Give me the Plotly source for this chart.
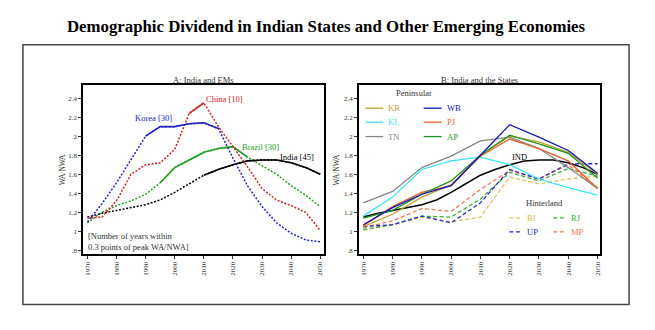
import plotly.graph_objects as go

W, H = 655, 330
def px(x): return x / W
def py(y): return 1 - y / H

# ---------------- Data ----------------
years5 = [1970, 1975, 1980, 1985, 1990, 1995, 2000, 2005, 2010, 2015,
          2020, 2025, 2030, 2035, 2040, 2045, 2050]
korea = [1.10, 1.29, 1.51, 1.76, 2.00, 2.10, 2.10, 2.13, 2.14, 2.08,
         1.77, 1.48, 1.26, 1.09, 0.98, 0.91, 0.89]
china = [1.14, 1.15, 1.32, 1.60, 1.70, 1.72, 1.86, 2.24, 2.35, 2.10,
         1.89, 1.68, 1.45, 1.33, 1.27, 1.20, 1.01]
brazil = [1.09, 1.20, 1.27, 1.32, 1.39, 1.51, 1.67, 1.75, 1.83, 1.87,
          1.89, 1.78, 1.69, 1.60, 1.48, 1.38, 1.26]
india = [1.15, 1.19, 1.22, 1.25, 1.28, 1.33, 1.41, 1.50, 1.59, 1.65,
         1.70, 1.74, 1.75, 1.75, 1.72, 1.67, 1.60]
# years within 0.3 points of peak (drawn solid)
korea_solid = (1990, 2015)
china_solid = (2005, 2010)
brazil_solid = (1995, 2025)
india_solid = (2010, 2050)

years10 = [1970, 1980, 1990, 2000, 2010, 2020, 2030, 2040, 2050]
KR = [1.05, 1.18, 1.36, 1.49, 1.80, 2.00, 1.94, 1.83, 1.60]
KL = [1.16, 1.36, 1.65, 1.74, 1.78, 1.70, 1.55, 1.46, 1.38]
TN = [1.30, 1.42, 1.67, 1.79, 1.95, 1.99, 1.87, 1.67, 1.45]
WB = [1.07, 1.25, 1.39, 1.48, 1.80, 2.12, 1.99, 1.85, 1.61]
PJ = [1.06, 1.26, 1.41, 1.48, 1.79, 1.97, 1.87, 1.74, 1.45]
AP = [1.14, 1.22, 1.39, 1.53, 1.80, 2.01, 1.92, 1.82, 1.56]
BI = [1.01, 1.07, 1.15, 1.10, 1.15, 1.57, 1.50, 1.55, 1.58]
RJ = [1.02, 1.07, 1.16, 1.15, 1.34, 1.62, 1.53, 1.66, 1.58]
UP = [1.05, 1.07, 1.16, 1.09, 1.30, 1.65, 1.55, 1.71, 1.71]
MP = [1.04, 1.11, 1.24, 1.21, 1.44, 1.64, 1.55, 1.70, 1.46]
IND = india

xticks = [1970, 1980, 1990, 2000, 2010, 2020, 2030, 2040, 2050]
yticks = [0.8, 1.0, 1.2, 1.4, 1.6, 1.8, 2.0, 2.2, 2.4]
yticktext = [".8", "1", "1.2", "1.4", "1.6", "1.8", "2", "2.2", "2.4"]

# ---------------- Styles ----------------
SERIF = "Liberation Serif, Times New Roman, serif"
C_KOREA, C_CHINA, C_BRAZIL, C_INDIA = "#2424C4", "#D42020", "#22A022", "#000000"
colors_pen = {"KR": "#C8A030", "KL": "#3CE4F0", "TN": "#858585",
              "WB": "#1414B4", "PJ": "#E2622C", "AP": "#1E961E"}
colors_hin = {"BI": "#DEC060", "RJ": "#38B038", "UP": "#2828CC", "MP": "#F07A55"}
DOT = "2px,1.6px"
DASH = "4px,2.5px"

fig = go.Figure()

def left_series(vals, color, solid):
    fig.add_trace(go.Scatter(x=years5, y=vals, mode="lines", xaxis="x", yaxis="y",
                             line=dict(color=color, width=1.5, dash=DOT),
                             showlegend=False, hoverinfo="skip"))
    xs = [x for x in years5 if solid[0] <= x <= solid[1]]
    ys = [v for x, v in zip(years5, vals) if solid[0] <= x <= solid[1]]
    fig.add_trace(go.Scatter(x=xs, y=ys, mode="lines", xaxis="x", yaxis="y",
                             line=dict(color=color, width=1.6),
                             showlegend=False, hoverinfo="skip"))

left_series(brazil, C_BRAZIL, brazil_solid)
left_series(india, C_INDIA, india_solid)
left_series(china, C_CHINA, china_solid)
left_series(korea, C_KOREA, korea_solid)

series_pen = [("TN", TN), ("KL", KL), ("KR", KR), ("PJ", PJ), ("AP", AP), ("WB", WB)]
series_hin = [("BI", BI), ("RJ", RJ), ("MP", MP), ("UP", UP)]
for name, vals in series_hin:
    fig.add_trace(go.Scatter(x=years10, y=vals, mode="lines", xaxis="x2", yaxis="y2",
                             line=dict(color=colors_hin[name], width=1.3, dash=DASH),
                             showlegend=False, hoverinfo="skip"))
fig.add_trace(go.Scatter(x=years5, y=IND, mode="lines", xaxis="x2", yaxis="y2",
                         line=dict(color="#000000", width=1.5),
                         showlegend=False, hoverinfo="skip"))
for name, vals in series_pen:
    fig.add_trace(go.Scatter(x=years10, y=vals, mode="lines", xaxis="x2", yaxis="y2",
                             line=dict(color=colors_pen[name], width=1.3),
                             showlegend=False, hoverinfo="skip"))

axis_common = dict(showline=True, linecolor="#000", linewidth=1.5, mirror=True,
                   showgrid=False, zeroline=False, ticks="outside", ticklen=3,
                   tickwidth=1, tickcolor="#333",
                   tickfont=dict(family=SERIF, size=7, color="#333"))
xa = dict(axis_common, range=[1968.5, 2051.3], tickvals=xticks,
          ticktext=[str(t) for t in xticks], tickangle=-90)
ya = dict(axis_common, range=[0.76, 2.54], tickvals=yticks, ticktext=yticktext)

ydom = [py(255), py(85)]
fig.update_layout(
    width=W, height=H, margin=dict(l=0, r=0, t=0, b=0),
    paper_bgcolor="white", plot_bgcolor="white",
    xaxis=dict(xa, domain=[px(83.3), px(325)], anchor="y"),
    yaxis=dict(ya, domain=ydom, anchor="x"),
    xaxis2=dict(xa, domain=[px(360), px(602)], anchor="y2", range=[1968.5, 2050.9]),
    yaxis2=dict(ya, domain=ydom, anchor="x2"),
)

ann = []
def text(x, y, s, size=8, color="#333", xanchor="left", **kw):
    ann.append(dict(x=px(x), y=py(y), xref="paper", yref="paper", text=s,
                    showarrow=False, xanchor=xanchor, yanchor="middle",
                    font=dict(family=SERIF, size=size, color=color), **kw))

text(327.5, 27, "<b>Demographic Dividend in Indian States and Other Emerging Economies</b>",
     size=16.8, color="#000", xanchor="center")
text(204, 80, "A: India and EMs", size=8.5, xanchor="center")
text(481, 80, "B: India and the States", size=8.5, xanchor="center")
text(63, 170, "WA/NWA", size=7.5, xanchor="center", textangle=-90)
text(338, 170, "WA/NWA", size=7.5, xanchor="center", textangle=-90)

text(133, 118.5, "Korea [30]", size=8.5, color=C_KOREA)
text(205, 99, "China [10]", size=8.5, color=C_CHINA)
text(241, 147, "Brazil [30]", size=8.5, color=C_BRAZIL)
text(279, 157, "India [45]", size=8.5, color=C_INDIA)
text(86.5, 242.5, "[Number of years within<br>0.3 points of peak WA/NWA]", size=8.5,
     color="#333", align="left")

text(512, 157, "IND", size=8.5, color="#000")
text(395, 93.5, "Peninsular", size=8.5, color="#333")
text(526, 204, "Hinterland", size=8.5, color="#333")

shapes = []
def leg(x0, y, name, color, dash, length=18):
    shapes.append(dict(type="line", xref="paper", yref="paper",
                       x0=px(x0), x1=px(x0 + length), y0=py(y), y1=py(y),
                       line=dict(color=color, width=1.3, dash=dash)))
    text(x0 + length + 3, y, name, size=8.5, color=color)

leg(366.5, 108.5, "KR", colors_pen["KR"], "solid")
leg(366.5, 122.5, "KL", colors_pen["KL"], "solid")
leg(366.5, 137, "TN", colors_pen["TN"], "solid")
leg(425, 108.5, "WB", colors_pen["WB"], "solid")
leg(425, 122.5, "PJ", colors_pen["PJ"], "solid")
leg(425, 137, "AP", colors_pen["AP"], "solid")
leg(511, 218.5, "BI", colors_hin["BI"], DASH, 13)
leg(511, 232.5, "UP", colors_hin["UP"], DASH, 13)
leg(555, 218.5, "RJ", colors_hin["RJ"], DASH, 13)
leg(555, 232.5, "MP", colors_hin["MP"], DASH, 13)

# outer frame
shapes.append(dict(type="rect", xref="paper", yref="paper",
                   x0=px(23), x1=px(631), y0=py(305.5), y1=py(45),
                   line=dict(color="#444", width=1.5)))

fig.update_layout(annotations=ann, shapes=shapes)
fig.write_html("out.html")
